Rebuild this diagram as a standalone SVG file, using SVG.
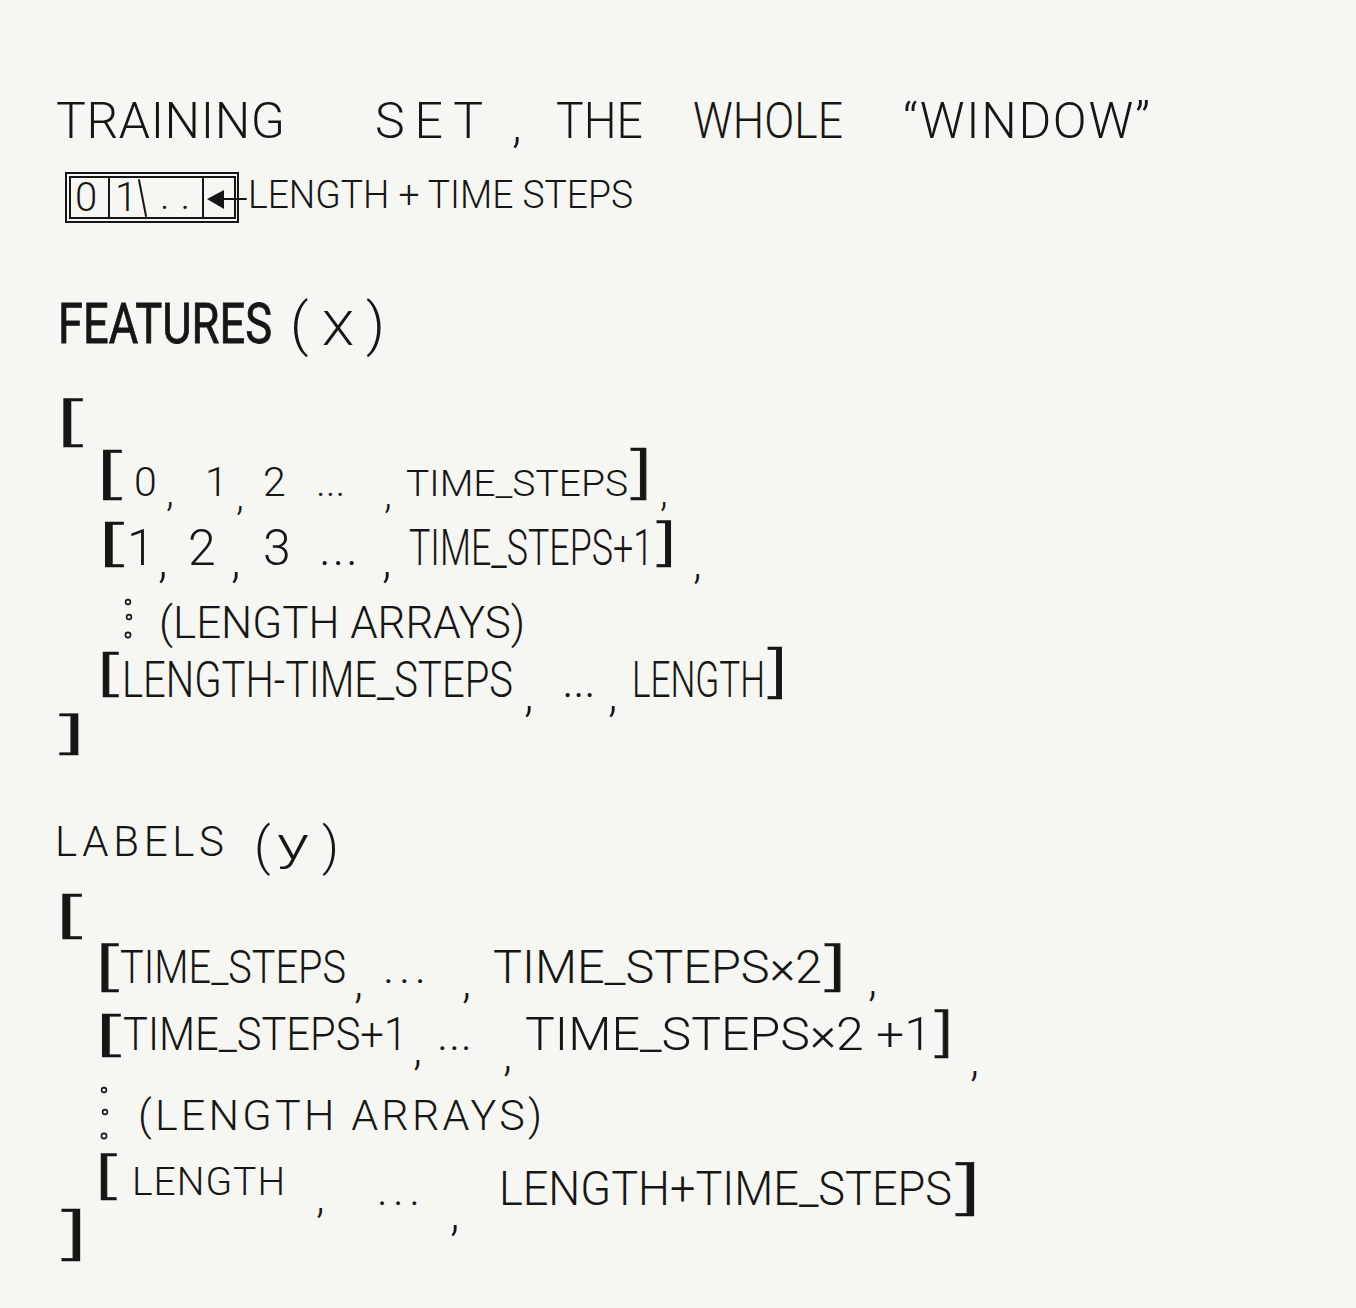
<svg xmlns="http://www.w3.org/2000/svg" width="1356" height="1308" viewBox="0 0 1356 1308">
  <defs>
    <style>
      .h { font-family: Roboto, Inter, Lato, "DejaVu Sans", sans-serif; font-weight: 300; fill: #161616; }
      .k { font-family: Roboto, Inter, Lato, "DejaVu Sans", sans-serif; font-weight: 300; fill: #161616; stroke: #161616; stroke-width: 0.6; }
      .b { font-family: Roboto, Inter, Lato, "DejaVu Sans", sans-serif; font-weight: 400; fill: #161616; stroke: #161616; stroke-width: 0.8; }
      .ln { stroke: #161616; stroke-width: 2; fill: none; stroke-linecap: round; }
      .dot { stroke: #161616; stroke-width: 1.6; fill: none; }
    </style>
  </defs>

  <!-- paper -->
  <rect width="1356" height="1308" fill="#f6f6f3"/>

  <!-- heading -->
  <g id="title" class="h" font-size="50">
    <text x="56" y="138" textLength="229" lengthAdjust="spacing">TRAINING</text>
    <text x="375" y="138" textLength="108" lengthAdjust="spacing">SET</text>
    <text x="512" y="142">,</text>
    <text x="556" y="138" textLength="87" lengthAdjust="spacingAndGlyphs">THE</text>
    <text x="693" y="138" textLength="150" lengthAdjust="spacingAndGlyphs">WHOLE</text>
    <text x="903" y="138" textLength="247" lengthAdjust="spacing">“WINDOW”</text>
  </g>

  <!-- the window strip -->
  <g id="window-strip">
    <rect class="ln" x="66" y="173" width="172" height="49"/>
    <rect class="ln" x="70" y="177" width="165" height="41" stroke-width="1.5"/>
    <line class="ln" x1="109" y1="178" x2="109" y2="217"/>
    <line class="ln" x1="139" y1="180" x2="146" y2="216"/>
    <line class="ln" x1="203" y1="178" x2="203" y2="217"/>
    <g class="h" font-size="40">
      <text x="75" y="211">0</text>
      <text x="115" y="211">1</text>
      <text x="160" y="209" textLength="30" lengthAdjust="spacing">..</text>
    </g>
    <polygon points="207,199 224,190 224,209" fill="#161616"/>
    <line class="ln" x1="210" y1="199" x2="246" y2="199"/>
    <text class="h" x="248" y="208" font-size="38" textLength="385" lengthAdjust="spacingAndGlyphs">LENGTH + TIME STEPS</text>
  </g>

  <!-- features block -->
  <g id="features">
    <text class="b" x="58" y="343" font-size="55" textLength="214" lengthAdjust="spacingAndGlyphs">FEATURES</text>
    <g class="h">
      <text x="290" y="344" font-size="58">(</text>
      <text x="322" y="345" font-size="48" textLength="32" lengthAdjust="spacingAndGlyphs">X</text>
      <text x="366" y="344" font-size="58">)</text>
    </g>

    <g class="h">
      <text class="k" x="55" y="439" font-size="50" textLength="27" lengthAdjust="spacingAndGlyphs">[</text>

      <!-- row 1 -->
      <text class="k" x="95" y="492" font-size="52" textLength="26" lengthAdjust="spacingAndGlyphs">[</text>
      <text y="496" font-size="41">
        <tspan x="134">0</tspan><tspan x="166" dy="10">,</tspan><tspan x="205" dy="-10">1</tspan><tspan x="236" dy="14">,</tspan><tspan x="263" dy="-14">2</tspan><tspan x="316">...</tspan><tspan x="384" dy="12">,</tspan><tspan x="406" dy="-12" font-size="37" textLength="222" lengthAdjust="spacingAndGlyphs">TIME_STEPS</tspan>
      </text>
      <text class="k" x="631" y="492" font-size="54" textLength="22" lengthAdjust="spacingAndGlyphs">]</text>
      <text x="660" y="506" font-size="40">,</text>

      <!-- row 2 -->
      <text class="k" x="97" y="560" font-size="46" textLength="26" lengthAdjust="spacingAndGlyphs">[</text>
      <text y="565" font-size="50">
        <tspan x="127">1</tspan><tspan x="158" dy="12">,</tspan><tspan x="188" dy="-12">2</tspan><tspan x="231" dy="12">,</tspan><tspan x="263" dy="-12">3</tspan><tspan x="319" textLength="39" lengthAdjust="spacing">...</tspan><tspan x="382" dy="12">,</tspan><tspan x="409" dy="-12" textLength="244" lengthAdjust="spacingAndGlyphs">TIME_STEPS+1</tspan>
      </text>
      <text class="k" x="657" y="560" font-size="48" textLength="20" lengthAdjust="spacingAndGlyphs">]</text>
      <text x="693" y="578" font-size="45">,</text>

      <!-- row 3 -->
      <text x="159" y="638" font-size="45" textLength="366" lengthAdjust="spacingAndGlyphs">(LENGTH ARRAYS)</text>

      <!-- row 4 -->
      <text class="k" x="96" y="690" font-size="46" textLength="22" lengthAdjust="spacingAndGlyphs">[</text>
      <text y="697" font-size="50">
        <tspan x="122" textLength="391" lengthAdjust="spacingAndGlyphs">LENGTH-TIME_STEPS</tspan><tspan x="524" dy="14">,</tspan><tspan x="562" dy="-14" textLength="34" lengthAdjust="spacing">...</tspan><tspan x="608" dy="14">,</tspan><tspan x="632" dy="-14" textLength="133" lengthAdjust="spacingAndGlyphs">LENGTH</tspan>
      </text>
      <text class="k" x="768" y="691" font-size="54" textLength="20" lengthAdjust="spacingAndGlyphs">]</text>

      <text class="k" x="60" y="748" font-size="42" textLength="26" lengthAdjust="spacingAndGlyphs">]</text>
    </g>
    <circle class="dot" cx="128" cy="602" r="2.4"/>
    <circle class="dot" cx="129" cy="617" r="2.4"/>
    <circle class="dot" cx="128" cy="635" r="2.6"/>
  </g>

  <!-- labels block -->
  <g id="labels">
    <g class="h">
      <text x="55" y="856" font-size="42" textLength="169" lengthAdjust="spacing">LABELS</text>
      <text x="254" y="864" font-size="52">(</text>
      <text x="277" y="860" font-size="46" textLength="32" lengthAdjust="spacingAndGlyphs">y</text>
      <text x="322" y="864" font-size="52">)</text>

      <text class="k" x="54" y="932" font-size="46" textLength="27" lengthAdjust="spacingAndGlyphs">[</text>

      <!-- row 1 -->
      <text class="k" x="94" y="984" font-size="50" textLength="24" lengthAdjust="spacingAndGlyphs">[</text>
      <text y="983" font-size="47">
        <tspan x="120" textLength="226" lengthAdjust="spacingAndGlyphs">TIME_STEPS</tspan><tspan x="354" dy="14">,</tspan><tspan x="383" dy="-14" textLength="43" lengthAdjust="spacing">...</tspan><tspan x="462" dy="14">,</tspan><tspan x="493" dy="-14" textLength="329" lengthAdjust="spacingAndGlyphs">TIME_STEPS×2</tspan>
      </text>
      <text class="k" x="825" y="984" font-size="50" textLength="22" lengthAdjust="spacingAndGlyphs">]</text>
      <text x="868" y="995" font-size="47">,</text>

      <!-- row 2 -->
      <text class="k" x="94" y="1050" font-size="44" textLength="26" lengthAdjust="spacingAndGlyphs">[</text>
      <text y="1050" font-size="47">
        <tspan x="123" textLength="284" lengthAdjust="spacingAndGlyphs">TIME_STEPS+1</tspan><tspan x="413" dy="14">,</tspan><tspan x="437" dy="-14" textLength="35" lengthAdjust="spacing">...</tspan><tspan x="503" dy="20">,</tspan><tspan x="525" dy="-20" textLength="407" lengthAdjust="spacingAndGlyphs">TIME_STEPS×2 +1</tspan>
      </text>
      <text class="k" x="935" y="1050" font-size="50" textLength="19" lengthAdjust="spacingAndGlyphs">]</text>
      <text x="970" y="1075" font-size="47">,</text>

      <!-- row 3 -->
      <text x="138" y="1130" font-size="43" textLength="404" lengthAdjust="spacing">(LENGTH ARRAYS)</text>

      <!-- row 4 -->
      <text class="k" x="94" y="1193" font-size="48" textLength="22" lengthAdjust="spacingAndGlyphs">[</text>
      <text x="132" y="1195" font-size="39" textLength="153" lengthAdjust="spacing">LENGTH</text>
      <text x="316" y="1212" font-size="45">,</text>
      <text x="377" y="1205" font-size="45" textLength="43" lengthAdjust="spacing">...</text>
      <text x="450" y="1230" font-size="50">,</text>
      <text x="499" y="1205" font-size="48" textLength="453" lengthAdjust="spacingAndGlyphs">LENGTH+TIME_STEPS</text>
      <text class="k" x="956" y="1208" font-size="56" textLength="26" lengthAdjust="spacingAndGlyphs">]</text>

      <text class="k" x="62" y="1253" font-size="54" textLength="26" lengthAdjust="spacingAndGlyphs">]</text>
    </g>
    <circle class="dot" cx="104" cy="1090" r="2.4"/>
    <circle class="dot" cx="105" cy="1112" r="2.4"/>
    <circle class="dot" cx="104" cy="1136" r="2.6"/>
  </g>
</svg>
